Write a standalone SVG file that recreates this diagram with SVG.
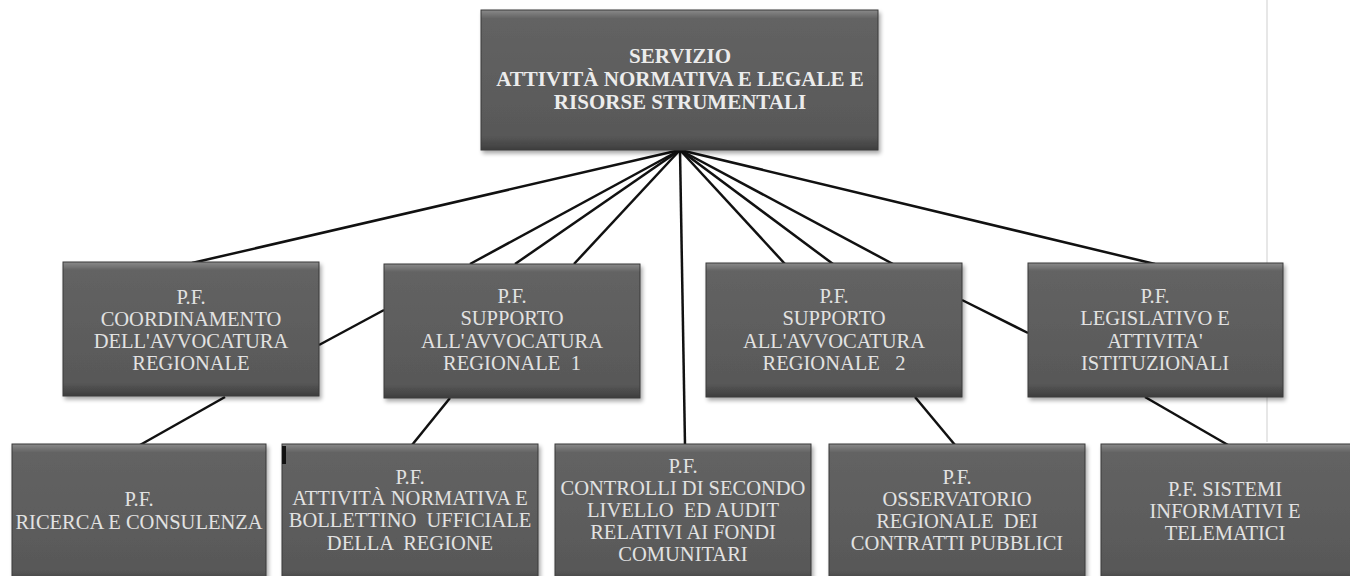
<svg xmlns="http://www.w3.org/2000/svg" width="1350" height="576" viewBox="0 0 1350 576">
<defs>
<linearGradient id="g" x1="0" y1="0" x2="0" y2="1">
<stop offset="0" stop-color="#8a8a8a"/>
<stop offset="0.06" stop-color="#636363"/>
<stop offset="0.9" stop-color="#585858"/>
<stop offset="1" stop-color="#3e3e3e"/>
</linearGradient>
<filter id="sh" x="-5%" y="-5%" width="115%" height="120%">
<feGaussianBlur in="SourceAlpha" stdDeviation="2"/>
<feOffset dx="2" dy="3" result="b"/>
<feComponentTransfer><feFuncA type="linear" slope="0.35"/></feComponentTransfer>
<feMerge><feMergeNode/><feMergeNode in="SourceGraphic"/></feMerge>
</filter>
</defs>
<style>
.box{fill:url(#g);stroke:#3a3a3a;stroke-width:1;filter:url(#sh)}
.t{font-family:"Liberation Serif","Times New Roman",serif;font-size:20.5px;fill:#e2e2e2;text-anchor:middle}
.tb{font-family:"Liberation Serif","Times New Roman",serif;font-size:21px;font-weight:bold;fill:#ececec;text-anchor:middle}
.c{stroke:#111;stroke-width:2.5;fill:none}
</style>
<rect width="1350" height="576" fill="#ffffff"/>
<line x1="1267" y1="0" x2="1267" y2="442" stroke="#cfcfcf" stroke-width="1"/>
<g id="connectors">
<line class="c" x1="680" y1="150" x2="192" y2="263"/>
<line class="c" x1="680" y1="150" x2="470" y2="264"/>
<line class="c" x1="680" y1="150" x2="515" y2="264"/>
<line class="c" x1="680" y1="150" x2="574" y2="264"/>
<line class="c" x1="680" y1="150" x2="685" y2="445"/>
<line class="c" x1="680" y1="150" x2="785" y2="264"/>
<line class="c" x1="680" y1="150" x2="833" y2="264"/>
<line class="c" x1="680" y1="150" x2="893" y2="264"/>
<line class="c" x1="680" y1="150" x2="1155" y2="264"/>
<line class="c" x1="319" y1="345" x2="384" y2="310"/>
<line class="c" x1="962" y1="300" x2="1028" y2="333"/>
<line class="c" x1="225" y1="397" x2="140" y2="445"/>
<line class="c" x1="450" y1="398" x2="412" y2="445"/>
<line class="c" x1="915" y1="397" x2="955" y2="445"/>
<line class="c" x1="1145" y1="397" x2="1228" y2="445"/>
</g>
<g id="n-servizio">
<rect class="box" x="481" y="10" width="397" height="140"/>
<text class="tb" x="680" y="63">SERVIZIO</text>
<text class="tb" x="680" y="86">ATTIVITÀ NORMATIVA E LEGALE E</text>
<text class="tb" x="680" y="109">RISORSE STRUMENTALI</text>
</g>
<g id="n-coordinamento">
<rect class="box" x="63" y="262" width="256" height="134"/>
<text class="t" x="191" y="304">P.F.</text>
<text class="t" x="191" y="326">COORDINAMENTO</text>
<text class="t" x="191" y="348">DELL'AVVOCATURA</text>
<text class="t" x="191" y="370">REGIONALE</text>
</g>
<g id="n-supporto1">
<rect class="box" x="384" y="264" width="256" height="134"/>
<text class="t" x="512" y="303">P.F.</text>
<text class="t" x="512" y="325">SUPPORTO</text>
<text class="t" x="512" y="348">ALL'AVVOCATURA</text>
<text class="t" x="512" y="370" xml:space="preserve">REGIONALE  1</text>
</g>
<g id="n-supporto2">
<rect class="box" x="706" y="263" width="256" height="134"/>
<text class="t" x="834" y="303">P.F.</text>
<text class="t" x="834" y="325">SUPPORTO</text>
<text class="t" x="834" y="348">ALL'AVVOCATURA</text>
<text class="t" x="834" y="370" xml:space="preserve">REGIONALE   2</text>
</g>
<g id="n-legislativo">
<rect class="box" x="1028" y="263" width="255" height="134"/>
<text class="t" x="1155" y="303">P.F.</text>
<text class="t" x="1155" y="325">LEGISLATIVO E</text>
<text class="t" x="1155" y="348">ATTIVITA'</text>
<text class="t" x="1155" y="370">ISTITUZIONALI</text>
</g>
<g id="n-ricerca">
<rect class="box" x="12" y="444" width="254" height="140"/>
<text class="t" x="139" y="506">P.F.</text>
<text class="t" x="139" y="529">RICERCA E CONSULENZA</text>
</g>
<g id="n-attivita">
<rect class="box" x="282" y="444" width="256" height="140"/>
<rect x="282" y="446" width="4" height="18" fill="#111"/>
<text class="t" x="410" y="484">P.F.</text>
<text class="t" x="410" y="505">ATTIVITÀ NORMATIVA E</text>
<text class="t" x="410" y="527" xml:space="preserve">BOLLETTINO  UFFICIALE</text>
<text class="t" x="410" y="550" xml:space="preserve">DELLA  REGIONE</text>
</g>
<g id="n-controlli">
<rect class="box" x="555" y="444" width="256" height="140"/>
<text class="t" x="683" y="473">P.F.</text>
<text class="t" x="683" y="495">CONTROLLI DI SECONDO</text>
<text class="t" x="683" y="517" xml:space="preserve">LIVELLO  ED AUDIT</text>
<text class="t" x="683" y="539">RELATIVI AI FONDI</text>
<text class="t" x="683" y="561">COMUNITARI</text>
</g>
<g id="n-osservatorio">
<rect class="box" x="829" y="444" width="256" height="140"/>
<text class="t" x="957" y="484">P.F.</text>
<text class="t" x="957" y="506">OSSERVATORIO</text>
<text class="t" x="957" y="528" xml:space="preserve">REGIONALE  DEI</text>
<text class="t" x="957" y="550">CONTRATTI PUBBLICI</text>
</g>
<g id="n-sistemi">
<rect class="box" x="1101" y="444" width="256" height="140"/>
<text class="t" x="1225" y="496">P.F. SISTEMI</text>
<text class="t" x="1225" y="518">INFORMATIVI E</text>
<text class="t" x="1225" y="540">TELEMATICI</text>
</g>
</svg>
